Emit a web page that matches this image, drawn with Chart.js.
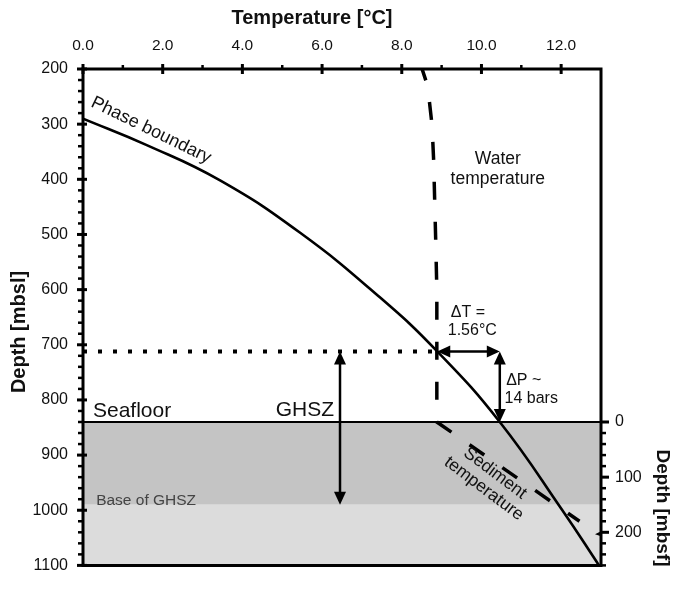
<!DOCTYPE html>
<html>
<head>
<meta charset="utf-8">
<script src="https://cdn.jsdelivr.net/npm/chart.js@4.4.1/dist/chart.umd.min.js"></script>
<style>
html,body{margin:0;padding:0;background:#fff;}
canvas{display:block;}
</style>
</head>
<body>
<canvas id="c" width="674" height="590"></canvas>
<script>
// ---- data ----
const tempTicks = [0, 2, 4, 6, 8, 10, 12];
const tempMinorTicks = [1, 3, 5, 7, 9, 11];
const depthTicks = [200, 300, 400, 500, 600, 700, 800, 900, 1000, 1100];
const mbsfTicks = [0, 100, 200];
const seafloorDepth = 840;
const baseGhszDepth = 990;
const ghszTopDepth = 712;

const phaseTemp  = [0.0, 1.6, 3.44, 5.45, 7.45, 8.89, 10.46, 12.03, 12.95];
const phaseDepth = [290, 338, 402, 497, 614, 712, 840, 1000, 1100];

const waterTemp  = [8.51, 8.65, 8.76, 8.80, 8.85, 8.88, 8.88, 12.46];
const waterDepth = [200, 231, 302, 365, 506, 600, 840, 1020];

const deltaT = { from: 8.89, to: 10.46, depth: 712 };
const deltaP = { temp: 10.46, from: 712, to: 840 };
const ghszArrow = { temp: 6.45, from: 712, to: 990 };

const FONT = '"Liberation Sans", Arial, sans-serif';

function pts(xs, ys){ return xs.map((x,i)=>({x:x, y:ys[i]})); }

const decor = {
  id: 'decor',
  beforeDatasetsDraw(chart){
    const {ctx, chartArea:a, scales:{x, y}} = chart;
    const ySf = y.getPixelForValue(seafloorDepth);
    const yB = y.getPixelForValue(baseGhszDepth);
    const yBot = y.getPixelForValue(1100);
    ctx.save();
    ctx.fillStyle = '#c4c4c4';
    ctx.fillRect(a.left, ySf, a.right - a.left, yB - ySf);
    ctx.fillStyle = '#dcdcdc';
    ctx.fillRect(a.left, yB, a.right - a.left, yBot - yB);
    ctx.restore();
  },
  afterDraw(chart){
    const {ctx, chartArea:a, scales:{x, y, y2}} = chart;
    ctx.save();
    ctx.strokeStyle = '#000';
    ctx.fillStyle = '#000';
    // frame
    ctx.lineWidth = 3;
    ctx.lineCap = 'square';
    ctx.beginPath();
    ctx.moveTo(a.left, a.bottom); ctx.lineTo(a.left, a.top);
    ctx.lineTo(a.right, a.top); ctx.lineTo(a.right, a.bottom);
    ctx.lineTo(a.left, a.bottom);
    ctx.stroke();
    ctx.lineCap = 'butt';
    // top ticks
    ctx.lineWidth = 3;
    tempTicks.forEach(t=>{
      const px = x.getPixelForValue(t);
      ctx.beginPath(); ctx.moveTo(px, a.top - 5); ctx.lineTo(px, a.top + 5); ctx.stroke();
    });
    ctx.lineWidth = 2.5;
    tempMinorTicks.forEach(t=>{
      const px = x.getPixelForValue(t);
      ctx.beginPath(); ctx.moveTo(px, a.top - 4); ctx.lineTo(px, a.top); ctx.stroke();
    });
    // left ticks
    for (let d = 200; d <= 1100; d += 20) {
      const py = y.getPixelForValue(d);
      ctx.beginPath();
      if (d % 100 === 0) { ctx.lineWidth = 3; ctx.moveTo(a.left - 6, py); ctx.lineTo(a.left + 4, py); }
      else { ctx.lineWidth = 2.5; ctx.moveTo(a.left - 5, py); ctx.lineTo(a.left, py); }
      ctx.stroke();
    }
    // right ticks (mbsf)
    for (let m = 0; m <= 260; m += 20) {
      const py = y2.getPixelForValue(m);
      ctx.beginPath();
      if (m % 100 === 0) { ctx.lineWidth = 3; ctx.moveTo(a.right, py); ctx.lineTo(a.right + 8, py); }
      else { ctx.lineWidth = 2.5; ctx.moveTo(a.right, py); ctx.lineTo(a.right + 5, py); }
      ctx.stroke();
    }
    // small inward mark at 200 mbsf
    {
      const py = y2.getPixelForValue(200);
      ctx.beginPath(); ctx.moveTo(a.right - 6, py + 2); ctx.lineTo(a.right, py - 1); ctx.lineTo(a.right, py + 4); ctx.closePath(); ctx.fill();
    }

    // arrows
    function head(tx, ty, dx, dy){
      const L = 13, W = 6;
      const bx = tx - dx*L, by = ty - dy*L;
      ctx.beginPath();
      ctx.moveTo(tx, ty);
      ctx.lineTo(bx - dy*W, by + dx*W);
      ctx.lineTo(bx + dy*W, by - dx*W);
      ctx.closePath(); ctx.fill();
    }
    function dblArrow(x1, y1, x2, y2p){
      const len = Math.hypot(x2-x1, y2p-y1);
      const dx = (x2-x1)/len, dy = (y2p-y1)/len;
      ctx.lineWidth = 2.5;
      ctx.beginPath(); ctx.moveTo(x1 + dx*8, y1 + dy*8); ctx.lineTo(x2 - dx*8, y2p - dy*8); ctx.stroke();
      head(x2, y2p, dx, dy);
      head(x1, y1, -dx, -dy);
    }
    dblArrow(x.getPixelForValue(ghszArrow.temp), y.getPixelForValue(ghszArrow.from),
             x.getPixelForValue(ghszArrow.temp), y.getPixelForValue(ghszArrow.to));
    dblArrow(x.getPixelForValue(deltaT.from), y.getPixelForValue(deltaT.depth),
             x.getPixelForValue(deltaT.to), y.getPixelForValue(deltaT.depth));
    dblArrow(x.getPixelForValue(deltaP.temp), y.getPixelForValue(deltaP.from),
             x.getPixelForValue(deltaP.temp), y.getPixelForValue(deltaP.to));

    // axis titles
    ctx.fillStyle = '#111';
    ctx.font = 'bold 20px ' + FONT;
    ctx.textAlign = 'center'; ctx.textBaseline = 'middle';
    ctx.fillText('Temperature [°C]', (a.left + a.right)/2 - 30, 18);
    ctx.save();
    ctx.translate(19, 332); ctx.rotate(-Math.PI/2);
    ctx.fillText('Depth [mbsl]', 0, 0);
    ctx.restore();
    ctx.save();
    ctx.font = 'bold 19px ' + FONT;
    ctx.translate(662, 508); ctx.rotate(Math.PI/2);
    ctx.fillText('Depth [mbsf]', 0, 0);
    ctx.restore();

    // annotations
    function txt(s, t, d, opts){
      const o = opts || {};
      ctx.save();
      ctx.font = (o.font || '17px') + ' ' + FONT;
      ctx.fillStyle = o.color || '#111';
      ctx.textAlign = o.align || 'center';
      ctx.textBaseline = 'middle';
      ctx.translate(x.getPixelForValue(t), y.getPixelForValue(d));
      if (o.rot) ctx.rotate(o.rot * Math.PI / 180);
      ctx.fillText(s, 0, 0);
      ctx.restore();
    }
    txt('Phase boundary', 1.71, 311, {rot: 26, font:'18px'});
    txt('Water', 10.41, 364, {font:'17.5px'});
    txt('temperature', 10.41, 399, {font:'17.5px'});
    txt('ΔT =', 9.66, 642, {font:'16px'});
    txt('1.56°C', 9.77, 675, {font:'16px'});
    txt('ΔP ~', 10.62, 765, {font:'16px', align:'left'});
    txt('14 bars', 10.58, 797, {font:'16px', align:'left'});
    txt('Seafloor', 0.25, 821, {font:'21px', align:'left'});
    txt('GHSZ', 5.57, 818, {font:'21px'});
    txt('Base of GHSZ', 0.33, 982, {font:'15.5px', align:'left', color:'#444'});
    txt('Sediment', 10.34, 933, {rot: 37, font:'17.5px'});
    txt('temperature', 10.06, 961, {rot: 37, font:'17.5px'});
    ctx.restore();
  }
};

new Chart(document.getElementById('c'), {
  type: 'scatter',
  data: {
    datasets: [
      { data: pts([0, 13], [seafloorDepth, seafloorDepth]), showLine: true, borderColor: '#000', borderWidth: 2, pointRadius: 0, clip: false },
      { data: pts([0, deltaT.from], [ghszTopDepth, ghszTopDepth]), showLine: true, borderColor: '#000', borderWidth: 4, borderDash: [4, 11], borderCapStyle: 'butt', pointRadius: 0 },
      { data: pts(waterTemp, waterDepth), showLine: true, borderColor: '#000', borderWidth: 3.5, borderDash: [18, 22], borderDashOffset: 6, borderCapStyle: 'butt', borderJoinStyle: 'miter', tension: 0, pointRadius: 0 },
      { data: pts(phaseTemp, phaseDepth), showLine: true, borderColor: '#000', borderWidth: 2.6, tension: 0.45, pointRadius: 0 }
    ]
  },
  options: {
    responsive: false,
    animation: false,
    devicePixelRatio: 1,
    layout: { padding: { top: 0, bottom: 7, left: 0, right: 0 } },
    plugins: { legend: { display: false }, tooltip: { enabled: false } },
    scales: {
      x: {
        type: 'linear', position: 'top', min: 0, max: 13,
        grid: { display: false, drawTicks: false }, border: { display: false },
        afterBuildTicks: s => { s.ticks = tempTicks.map(v => ({value: v})); },
        afterFit: s => { s.height = 69; },
        ticks: { padding: 14, color: '#111', font: { family: FONT, size: 15.5 }, callback: v => Number(v).toFixed(1), maxRotation: 0 }
      },
      y: {
        type: 'linear', position: 'left', reverse: true, min: 200, max: 1100,
        grid: { display: false, drawTicks: false }, border: { display: false },
        afterBuildTicks: s => { s.ticks = depthTicks.map(v => ({value: v})); },
        afterFit: s => { s.width = 83; },
        ticks: { padding: 15, color: '#111', font: { family: FONT, size: 16 }, callback: v => String(v) }
      },
      y2: {
        type: 'linear', position: 'right', reverse: true,
        min: 200 - seafloorDepth, max: 1100 - seafloorDepth,
        grid: { display: false, drawTicks: false }, border: { display: false },
        afterBuildTicks: s => { s.ticks = mbsfTicks.map(v => ({value: v})); },
        afterFit: s => { s.width = 73; },
        ticks: { padding: 14, color: '#111', font: { family: FONT, size: 16 }, callback: v => String(v) }
      }
    }
  },
  plugins: [decor]
});
</script>
</body>
</html>
